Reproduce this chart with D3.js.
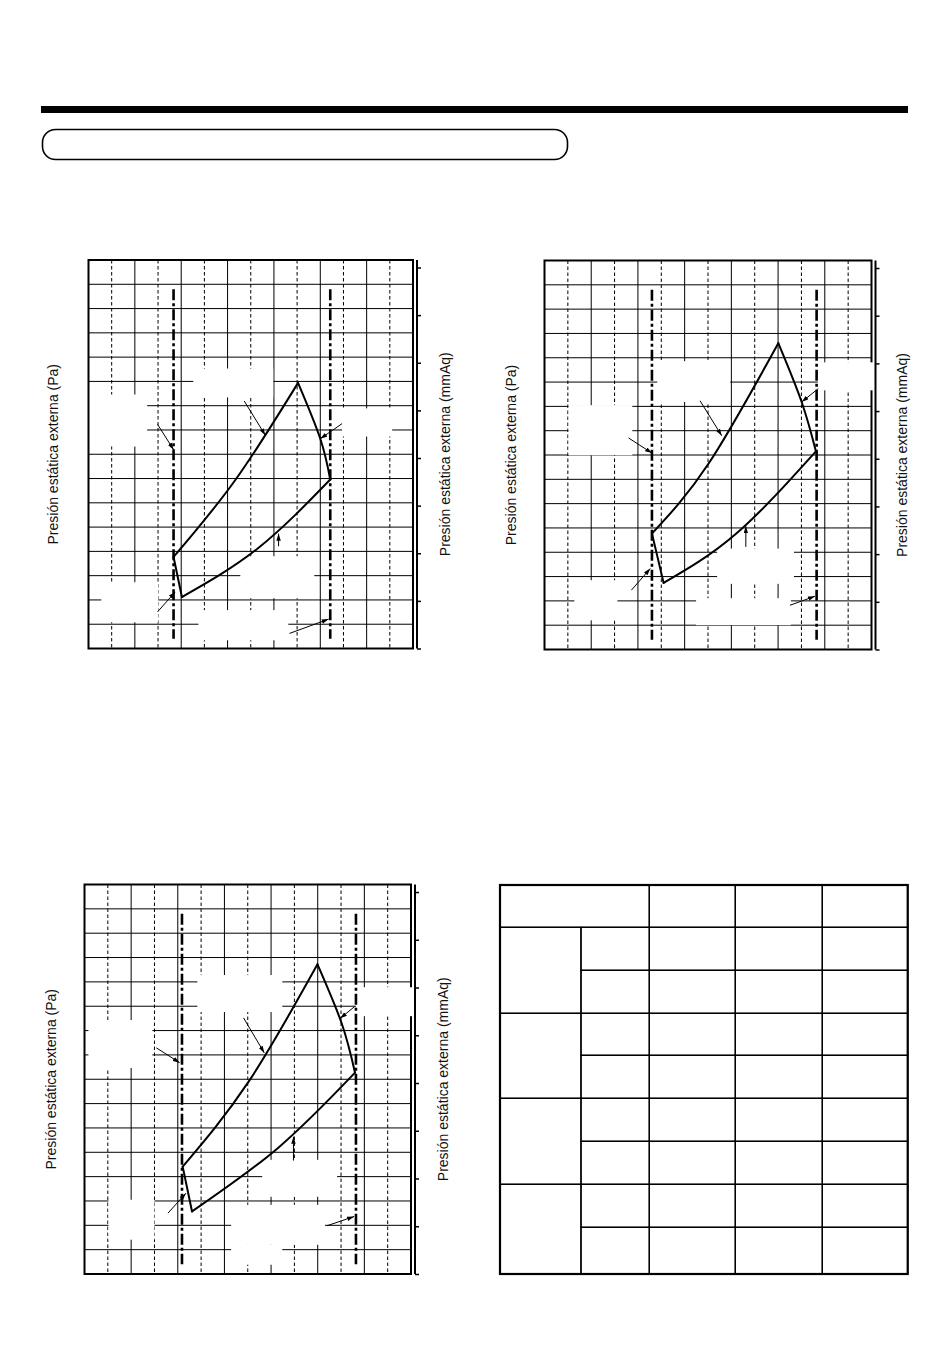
<!DOCTYPE html>
<html>
<head>
<meta charset="utf-8">
<title>Curvas de presión estática</title>
<style>
  body { margin: 0; background: #fff; }
  svg { display: block; }
  text { font-family: "Liberation Sans", Arial, sans-serif; fill: #111; }
</style>
</head>
<body>
<svg id="page" width="950" height="1370"></svg>
<script src="https://cdn.jsdelivr.net/npm/d3@7"></script>
<script>
// --- data (airflow in m3/h, pressure in Pa) ---
const airflowGrid = d3.range(100, 1400, 100);
const pressureGrid = d3.range(10, 160, 10);
const mmAqTicks = d3.range(0, 17, 2);
const limitRange = [4, 148];
const paLabel = 'Presión estática externa (Pa)';
const mmAqLabel = 'Presión estática externa (mmAq)';

// chart 1
const c1Limits = [367, 1043];
const c1Upper = [[367, 37.7], [635, 69.6], [904, 109.4]];
const c1Right = [[904, 109.4], [1000, 86.4], [1043, 69.6]];
const c1Lower = [[403, 21.2], [730, 41.2], [1043, 69.6]];
const c1Left = [[367, 37.7], [403, 21.2]];
const c1Arrows = [[672, 101.9, 763, 87.8], [1094, 92.6, 1000, 86.4], [298, 92.3, 367, 81.9],
                  [820, 42.1, 820, 47.3], [298, 15.1, 374, 23.3], [867, 6.2, 1036, 12.1]];
const c1Boxes = [[452, 797, 103.4, 115.3], [0, 253, 83.2, 104.6], [1094, 1310, 87.3, 98.9],
                 [655, 974, 20.7, 38.0], [55, 301, 10.8, 27.3], [474, 862, 3.4, 15.8]];

// chart 2
const c2Limits = [460, 1165];
const c2Upper = [[460, 47.7], [702, 76.4], [1001, 126.0]];
const c2Right = [[1001, 126.0], [1101, 101.8], [1162, 81.5]];
const c2Lower = [[510, 27.4], [820, 47.6], [1162, 81.5]];
const c2Left = [[460, 47.7], [510, 27.4]];
const c2Arrows = [[666, 102.3, 759, 87.9], [1172, 107.3, 1101, 101.8], [360, 87.0, 460, 80.8],
                  [862, 42.2, 862, 50.7], [372, 24.4, 453, 33.3], [1051, 18.2, 1158, 21.9]];
const c2Boxes = [[483, 795, 101.8, 118.6], [103, 376, 79.9, 100.5], [1170, 1410, 106.6, 118.1],
                 [739, 1068, 27.0, 41.5], [649, 1055, 10.0, 21.1], [128, 312, 12.0, 28.5]];

// chart 3
const c3Limits = [418, 1164];
const c3Upper = [[421, 44.1], [703, 78.9], [999, 127.2]];
const c3Right = [[999, 127.2], [1103, 102.9], [1160, 82.7]];
const c3Lower = [[461, 25.7], [830, 51.8], [1160, 82.7]];
const c3Left = [[421, 44.1], [461, 25.7]];
const c3Arrows = [[682, 105.2, 771, 90.8], [1160, 110.0, 1096, 105.0], [308, 92.9, 408, 86.8],
                  [896, 46.6, 896, 56.4], [358, 25.0, 435, 33.2], [1039, 19.8, 1156, 23.6]];
const c3Boxes = [[484, 848, 107.6, 122.8], [17, 291, 84.6, 104.3], [1164, 1410, 105.9, 117.8],
                 [762, 1083, 31.7, 46.9], [103, 300, 14.1, 30.5], [629, 1031, 12.0, 28.4], [629, 848, 3.8, 12.0]];

// table (texts are blank on the sheet)
const tableHeader = ['', '', '', ''];
const tableGroups = ['', '', '', ''];
const tableSubRows = ['', ''];
const tableValues = tableGroups.map(() => tableSubRows.map(() => ['', '', '']));

const svg = d3.select('#page');

svg.append('defs').append('marker')
    .attr('id', 'arrow')
    .attr('markerUnits', 'userSpaceOnUse')
    .attr('markerWidth', 8).attr('markerHeight', 5)
    .attr('refX', 7).attr('refY', 2.25)
    .attr('orient', 'auto')
  .append('path')
    .attr('d', 'M0,0 L7,2.25 L0,4.5 Z')
    .attr('fill', '#000');

// page header
svg.append('rect').attr('x', 41).attr('y', 106).attr('width', 867).attr('height', 7).attr('fill', '#000');
svg.append('rect').attr('x', 42.5).attr('y', 129.5).attr('width', 525).attr('height', 30)
    .attr('rx', 13).attr('fill', 'none').attr('stroke', '#000').attr('stroke-width', 1.6);

function drawChart(box, d) {
  const g = svg.append('g').attr('transform', `translate(${box.left},${box.top})`);
  const x = d3.scaleLinear().domain([0, 1400]).range([0, box.width]);
  const y = d3.scaleLinear().domain([0, 160]).range([box.height, 0]);
  const yMm = d3.scaleLinear().domain([0, 160 / 9.80665]).range([box.height, 0]);

  // grid
  g.selectAll('.vgrid').data(airflowGrid).join('line')
      .attr('x1', v => x(v)).attr('x2', v => x(v))
      .attr('y1', 0).attr('y2', box.height)
      .attr('stroke', '#000').attr('stroke-width', 1)
      .attr('stroke-dasharray', v => v % 200 === 0 ? null : '3.5,2.5');
  g.selectAll('.hgrid').data(pressureGrid).join('line')
      .attr('x1', 0).attr('x2', box.width)
      .attr('y1', v => y(v)).attr('y2', v => y(v))
      .attr('stroke', '#000').attr('stroke-width', 1);

  // blanked label areas
  g.selectAll('.blank').data(d.boxes).join('rect')
      .attr('x', b => x(b[0])).attr('width', b => x(b[1]) - x(b[0]))
      .attr('y', b => y(b[3])).attr('height', b => y(b[2]) - y(b[3]))
      .attr('fill', '#fff');

  // frame
  g.append('rect').attr('width', box.width).attr('height', box.height)
      .attr('fill', 'none').attr('stroke', '#000').attr('stroke-width', 2);
  // blanks that also cut the right border
  g.selectAll('.gap').data(d.boxes.filter(b => b[1] > 1400)).join('rect')
      .attr('x', x(1400) - 1.5).attr('width', b => x(b[1]) - x(1400) + 1.5)
      .attr('y', b => y(b[3])).attr('height', b => y(b[2]) - y(b[3]))
      .attr('fill', '#fff');

  // right axis in mmAq
  const ax = g.append('g').attr('transform', `translate(${box.width + 4},0)`)
      .call(d3.axisRight(yMm).tickValues(mmAqTicks).tickSize(4).tickFormat(''));
  ax.select('.domain').attr('d', `M0,0V${box.height}`).attr('stroke-width', 2);
  ax.selectAll('.tick line').attr('stroke-width', 1.5);

  // airflow limits
  g.selectAll('.limit').data(d.limits).join('line')
      .attr('x1', v => x(v)).attr('x2', v => x(v))
      .attr('y1', y(limitRange[1])).attr('y2', y(limitRange[0]))
      .attr('stroke', '#000').attr('stroke-width', 2.6)
      .attr('stroke-dasharray', '11,3,3,3');

  // operating range
  const smooth = d3.line().x(p => x(p[0])).y(p => y(p[1])).curve(d3.curveNatural);
  const straight = d3.line().x(p => x(p[0])).y(p => y(p[1]));
  [[d.upper, smooth], [d.right, smooth], [d.lower, smooth], [d.left, straight]].forEach(([pts, fn]) => {
    g.append('path').attr('d', fn(pts))
        .attr('fill', 'none').attr('stroke', '#000').attr('stroke-width', 2)
        .attr('stroke-linejoin', 'round').attr('stroke-linecap', 'round');
  });

  // pointers
  g.selectAll('.pointer').data(d.arrows).join('line')
      .attr('x1', a => x(a[0])).attr('y1', a => y(a[1]))
      .attr('x2', a => x(a[2])).attr('y2', a => y(a[3]))
      .attr('stroke', '#000').attr('stroke-width', 1)
      .attr('marker-end', 'url(#arrow)');

  // axis titles
  g.append('text')
      .attr('transform', `translate(${box.leftLabel},${box.height / 2}) rotate(-90)`)
      .attr('text-anchor', 'middle').attr('dominant-baseline', 'central')
      .attr('font-size', 14).text(paLabel);
  g.append('text')
      .attr('transform', `translate(${box.rightLabel},${box.height / 2}) rotate(-90)`)
      .attr('text-anchor', 'middle').attr('dominant-baseline', 'central')
      .attr('font-size', 14).text(mmAqLabel);
}

drawChart({left: 88.5, top: 260, width: 324.5, height: 388.5, leftLabel: -36, rightLabel: 356},
  {limits: c1Limits, upper: c1Upper, right: c1Right, lower: c1Lower, left: c1Left, arrows: c1Arrows, boxes: c1Boxes});
drawChart({left: 544.5, top: 260.5, width: 327, height: 389, leftLabel: -34, rightLabel: 357},
  {limits: c2Limits, upper: c2Upper, right: c2Right, lower: c2Lower, left: c2Left, arrows: c2Arrows, boxes: c2Boxes});
drawChart({left: 84.5, top: 884.5, width: 326.5, height: 389.5, leftLabel: -33.5, rightLabel: 358.5},
  {limits: c3Limits, upper: c3Upper, right: c3Right, lower: c3Lower, left: c3Left, arrows: c3Arrows, boxes: c3Boxes});

// table
const colEdges = [500, 581, 649.3, 735.3, 822.3, 907.7];
const rowEdges = [885, 927.3, 970.3, 1013.3, 1055.3, 1098.3, 1141.3, 1184.3, 1227.3, 1274];
const cells = [];
cells.push({c0: 0, c1: 2, r0: 0, r1: 1, t: tableHeader[0]});
tableHeader.slice(1).forEach((t, i) => cells.push({c0: i + 2, c1: i + 3, r0: 0, r1: 1, t}));
tableGroups.forEach((gName, gi) => {
  const r = 1 + gi * tableSubRows.length;
  cells.push({c0: 0, c1: 1, r0: r, r1: r + tableSubRows.length, t: gName});
  tableSubRows.forEach((s, si) => {
    cells.push({c0: 1, c1: 2, r0: r + si, r1: r + si + 1, t: s});
    tableValues[gi][si].forEach((v, vi) => cells.push({c0: vi + 2, c1: vi + 3, r0: r + si, r1: r + si + 1, t: v}));
  });
});
const tg = svg.append('g');
tg.selectAll('rect').data(cells).join('rect')
    .attr('x', c => colEdges[c.c0]).attr('y', c => rowEdges[c.r0])
    .attr('width', c => colEdges[c.c1] - colEdges[c.c0])
    .attr('height', c => rowEdges[c.r1] - rowEdges[c.r0])
    .attr('fill', 'none').attr('stroke', '#000').attr('stroke-width', 1.3);
tg.selectAll('text').data(cells).join('text')
    .attr('x', c => (colEdges[c.c0] + colEdges[c.c1]) / 2)
    .attr('y', c => (rowEdges[c.r0] + rowEdges[c.r1]) / 2)
    .attr('text-anchor', 'middle').attr('dominant-baseline', 'central')
    .attr('font-size', 12).text(c => c.t);
tg.append('rect').attr('x', 500).attr('y', 885).attr('width', 407.7).attr('height', 389)
    .attr('fill', 'none').attr('stroke', '#000').attr('stroke-width', 2.2);
</script>
</body>
</html>
